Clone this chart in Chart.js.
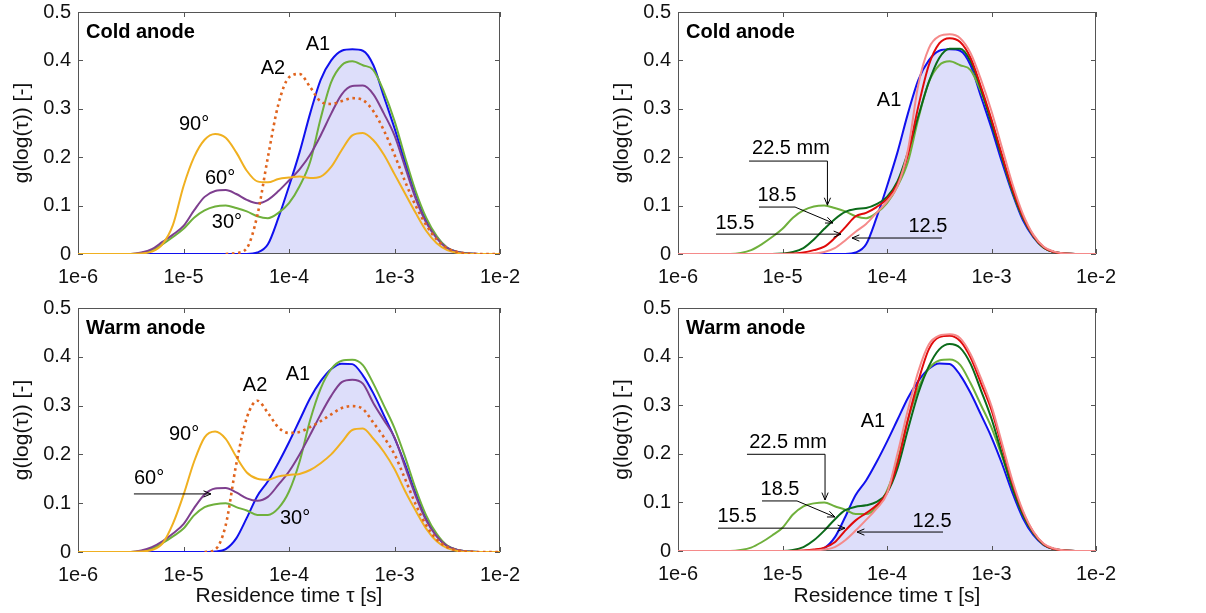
<!DOCTYPE html>
<html>
<head>
<meta charset="utf-8">
<script src="https://cdn.jsdelivr.net/npm/chart.js@4"></script>
<style>
  body { margin: 0; background: #fff; }
  canvas { position: absolute; }
</style>
</head>
<body>
<canvas id="coldAngle" width="600" height="300" style="left:0;top:0"></canvas>
<canvas id="coldRadial" width="606" height="300" style="left:600px;top:0"></canvas>
<canvas id="warmAngle" width="600" height="313" style="left:0;top:300px"></canvas>
<canvas id="warmRadial" width="606" height="313" style="left:600px;top:300px"></canvas>

<script>
// log10 of residence time, one point per 0.1 decade
const logTau = [-6.0, -5.9, -5.8, -5.7, -5.6, -5.5, -5.4, -5.3, -5.2, -5.1,
                -5.0, -4.9, -4.8, -4.7, -4.6, -4.5, -4.4, -4.3, -4.2, -4.1,
                -4.0, -3.9, -3.8, -3.7, -3.6, -3.5, -3.4, -3.3, -3.2, -3.1,
                -3.0, -2.9, -2.8, -2.7, -2.6, -2.5, -2.4, -2.3, -2.2, -2.1,
                -2.0];
const decades = [1e-6, 1e-5, 1e-4, 1e-3, 1e-2];
const yTicks = [0, 0.1, 0.2, 0.3, 0.4, 0.5];

// cold anode
const coldA1 = [0, 0, 0, 0, 0, 0, 0, 0, 0, 0,
  0, 0, 0, 0, 0, 0, 0, 0.003, 0.02, 0.075,
  0.14, 0.21, 0.29, 0.36, 0.40, 0.42, 0.423, 0.42, 0.39, 0.325,
  0.26, 0.19, 0.125, 0.07, 0.035, 0.013, 0.004, 0.001, 0, 0,
  0];
const coldA2 = [null, null, null, null, null, null, null, null, null, null,
  null, null, null, null, 0, 0.002, 0.012, 0.08, 0.2, 0.31,
  0.365, 0.372, 0.345, 0.315, 0.31, 0.316, 0.322, 0.318, 0.295, 0.255,
  0.205, 0.15, 0.1, 0.06, 0.03, 0.012, 0.004, 0.001, 0, 0,
  0];
const cold90 = [0, 0, 0, 0, 0, 0, 0.001, 0.005, 0.02, 0.06,
  0.14, 0.2, 0.236, 0.248, 0.24, 0.21, 0.172, 0.15, 0.148, 0.155,
  0.158, 0.16, 0.157, 0.16, 0.18, 0.215, 0.245, 0.25, 0.235, 0.205,
  0.165, 0.125, 0.085, 0.048, 0.022, 0.008, 0.002, 0, 0, 0,
  0];
const cold60 = [0, 0, 0, 0, 0, 0, 0.003, 0.01, 0.025, 0.04,
  0.058, 0.09, 0.118, 0.13, 0.132, 0.124, 0.112, 0.105, 0.112, 0.13,
  0.152, 0.175, 0.205, 0.245, 0.29, 0.33, 0.347, 0.348, 0.33, 0.29,
  0.245, 0.18, 0.115, 0.065, 0.033, 0.012, 0.004, 0.001, 0, 0,
  0];
// 30 deg is also the 22.5 mm curve
const cold30 = [0, 0, 0, 0, 0, 0, 0.002, 0.008, 0.02, 0.035,
  0.052, 0.075, 0.09, 0.098, 0.1, 0.095, 0.088, 0.078, 0.074, 0.085,
  0.105, 0.14, 0.19, 0.28, 0.355, 0.39, 0.398, 0.39, 0.38, 0.335,
  0.275, 0.2, 0.13, 0.075, 0.037, 0.013, 0.004, 0.001, 0, 0,
  0];
const cold18 = [0, 0, 0, 0, 0, 0, 0, 0, 0, 0,
  0.001, 0.004, 0.012, 0.03, 0.052, 0.072, 0.087, 0.093, 0.095, 0.103,
  0.118, 0.15, 0.21, 0.285, 0.355, 0.405, 0.424, 0.424, 0.398, 0.34,
  0.27, 0.2, 0.13, 0.075, 0.037, 0.013, 0.004, 0.001, 0, 0,
  0];
const cold15 = [0, 0, 0, 0, 0, 0, 0, 0, 0, 0,
  0, 0.001, 0.003, 0.008, 0.015, 0.033, 0.055, 0.078, 0.085, 0.097,
  0.114, 0.145, 0.205, 0.305, 0.39, 0.435, 0.446, 0.438, 0.405, 0.345,
  0.278, 0.205, 0.135, 0.078, 0.038, 0.014, 0.004, 0.001, 0, 0,
  0];
const cold12 = [0, 0, 0, 0, 0, 0, 0, 0, 0, 0,
  0, 0, 0, 0.001, 0.004, 0.012, 0.028, 0.046, 0.062, 0.085,
  0.108, 0.14, 0.215, 0.35, 0.425, 0.45, 0.454, 0.446, 0.415, 0.36,
  0.295, 0.22, 0.145, 0.083, 0.04, 0.015, 0.005, 0.001, 0, 0,
  0];

// warm anode
const warmA1 = [0, 0, 0, 0, 0, 0, 0, 0, 0, 0,
  0, 0, 0, 0.001, 0.006, 0.028, 0.07, 0.115, 0.145, 0.183,
  0.225, 0.27, 0.315, 0.35, 0.375, 0.386, 0.385, 0.362, 0.325, 0.28,
  0.234, 0.18, 0.12, 0.068, 0.033, 0.012, 0.004, 0.001, 0, 0,
  0];
const warmA2 = [null, null, null, null, null, null, null, null, null, null,
  null, null, 0, 0.005, 0.055, 0.18, 0.275, 0.31, 0.285, 0.255,
  0.244, 0.246, 0.256, 0.268, 0.282, 0.295, 0.299, 0.293, 0.265, 0.235,
  0.2, 0.15, 0.098, 0.055, 0.026, 0.01, 0.003, 0.001, 0, 0,
  0];
const warm90 = [0, 0, 0, 0, 0, 0, 0.001, 0.004, 0.017, 0.058,
  0.117, 0.185, 0.235, 0.247, 0.232, 0.195, 0.163, 0.15, 0.148, 0.155,
  0.158, 0.16, 0.168, 0.182, 0.2, 0.225, 0.25, 0.253, 0.232, 0.205,
  0.17, 0.125, 0.085, 0.048, 0.022, 0.008, 0.002, 0, 0, 0,
  0];
const warm60 = [0, 0, 0, 0, 0, 0, 0.003, 0.01, 0.022, 0.038,
  0.057, 0.09, 0.118, 0.13, 0.131, 0.122, 0.11, 0.105, 0.113, 0.138,
  0.165, 0.2, 0.24, 0.282, 0.32, 0.348, 0.353, 0.345, 0.305, 0.27,
  0.235, 0.175, 0.115, 0.065, 0.032, 0.012, 0.004, 0.001, 0, 0,
  0];
const warm30 = [0, 0, 0, 0, 0, 0, 0.002, 0.007, 0.018, 0.032,
  0.048, 0.075, 0.092, 0.098, 0.1, 0.092, 0.085, 0.076, 0.076, 0.09,
  0.124, 0.185, 0.27, 0.335, 0.375, 0.392, 0.394, 0.383, 0.345, 0.3,
  0.254, 0.195, 0.13, 0.075, 0.037, 0.013, 0.004, 0.001, 0, 0,
  0];
const warm18 = [0, 0, 0, 0, 0, 0, 0, 0, 0, 0,
  0, 0.002, 0.008, 0.022, 0.042, 0.065, 0.084, 0.091, 0.094, 0.101,
  0.12, 0.17, 0.25, 0.325, 0.38, 0.415, 0.426, 0.418, 0.385, 0.33,
  0.272, 0.2, 0.13, 0.075, 0.037, 0.013, 0.004, 0.001, 0, 0,
  0];
const warm15 = [0, 0, 0, 0, 0, 0, 0, 0, 0, 0,
  0, 0, 0.001, 0.003, 0.007, 0.018, 0.042, 0.063, 0.078, 0.094,
  0.12, 0.18, 0.27, 0.35, 0.415, 0.44, 0.443, 0.432, 0.398, 0.345,
  0.29, 0.215, 0.14, 0.08, 0.039, 0.014, 0.004, 0.001, 0, 0,
  0];
const warm12 = [0, 0, 0, 0, 0, 0, 0, 0, 0, 0,
  0, 0, 0, 0.001, 0.003, 0.008, 0.022, 0.042, 0.064, 0.087,
  0.118, 0.2, 0.29, 0.37, 0.425, 0.443, 0.446, 0.438, 0.405, 0.355,
  0.298, 0.222, 0.145, 0.083, 0.04, 0.015, 0.005, 0.001, 0, 0,
  0];

const FONT = "'Liberation Sans', Arial, Helvetica, sans-serif";
const tau = logTau.map(e => Math.pow(10, e));

function pts(arr) {
  return tau.map((t, i) => ({x: t, y: arr[i]}));
}

function line(arr, color, extra) {
  return Object.assign({
    data: pts(arr), borderColor: color, borderWidth: 2, pointRadius: 0,
    cubicInterpolationMode: 'monotone', fill: false
  }, extra || {});
}

function a1(arr) {
  return line(arr, '#1010ee', {fill: 'origin', backgroundColor: 'rgb(221,222,250)'});
}

function a2(arr) {
  return line(arr, '#e0641e', {borderWidth: 2.6, borderDash: [2.6, 3.6]});
}

// no extra room for overflowing tick labels, the layout padding sets the box
function noOverflow(s) {
  s.paddingTop = 0; s.paddingBottom = 0; s.paddingLeft = 0; s.paddingRight = 0;
}

// frame, inside ticks and text notes
const notesPlugin = {
  id: 'notes',
  beforeDatasetsDraw(chart) {
    const {ctx, chartArea: a, scales: {x, y}} = chart;
    ctx.save();
    ctx.strokeStyle = '#555';
    ctx.lineWidth = 1;
    ctx.beginPath();
    decades.forEach(v => {
      const px = Math.round(x.getPixelForValue(v)) + 0.5;
      ctx.moveTo(px, a.bottom); ctx.lineTo(px, a.bottom - 5);
      ctx.moveTo(px, a.top); ctx.lineTo(px, a.top + 5);
    });
    yTicks.forEach(v => {
      const py = Math.round(y.getPixelForValue(v)) + 0.5;
      ctx.moveTo(a.left, py); ctx.lineTo(a.left + 5, py);
      ctx.moveTo(a.right, py); ctx.lineTo(a.right - 5, py);
    });
    ctx.stroke();
    ctx.strokeRect(a.left + 0.5, a.top + 0.5, a.width - 1, a.height - 1);
    ctx.restore();
  },
  afterDatasetsDraw(chart, args, opts) {
    const {ctx, chartArea: a, scales: {x, y}} = chart;
    const px = L => x.getPixelForValue(Math.pow(10, L));
    ctx.save();
    ctx.fillStyle = '#000';
    ctx.textBaseline = 'middle';
    ctx.font = 'bold 20px ' + FONT;
    ctx.textAlign = 'left';
    ctx.fillText(opts.title, a.left + 8, a.top + 20);

    ctx.font = '20px ' + FONT;
    ctx.textAlign = 'center';
    (opts.labels || []).forEach(l => {
      ctx.fillText(l.t, px(l.L), y.getPixelForValue(l.v));
    });

    ctx.strokeStyle = '#000';
    ctx.lineWidth = 1;
    (opts.arrows || []).forEach(p => {
      const xy = p.map(q => [px(q[0]), y.getPixelForValue(q[1])]);
      ctx.beginPath();
      ctx.moveTo(xy[0][0], xy[0][1]);
      xy.slice(1).forEach(q => ctx.lineTo(q[0], q[1]));
      ctx.stroke();
      const [x1, y1] = xy[xy.length - 2];
      const [x2, y2] = xy[xy.length - 1];
      const ang = Math.atan2(y2 - y1, x2 - x1);
      ctx.beginPath();
      ctx.moveTo(x2 - 8 * Math.cos(ang - 0.4), y2 - 8 * Math.sin(ang - 0.4));
      ctx.lineTo(x2, y2);
      ctx.lineTo(x2 - 8 * Math.cos(ang + 0.4), y2 - 8 * Math.sin(ang + 0.4));
      ctx.stroke();
    });
    ctx.restore();
  }
};

function makePanel(id, datasets, notes, pad, xHeight, showXTitle) {
  return new Chart(document.getElementById(id), {
    type: 'line',
    data: {datasets: datasets},
    options: {
      responsive: false,
      animation: false,
      layout: {padding: pad},
      plugins: {
        legend: {display: false},
        tooltip: {enabled: false},
        filler: {drawTime: 'beforeDatasetsDraw'},
        notes: notes
      },
      scales: {
        x: {
          type: 'logarithmic', min: 1e-6, max: 1e-2,
          afterBuildTicks: s => { s.ticks = decades.map(v => ({value: v})); },
          afterFit: s => { s.height = xHeight; noOverflow(s); },
          grid: {display: false, drawTicks: false},
          border: {display: false},
          ticks: {
            callback: v => '1e' + Math.round(Math.log10(v)),
            font: {family: FONT, size: 20}, color: '#111',
            padding: 11, maxRotation: 0, autoSkip: false
          },
          title: {
            display: showXTitle, text: 'Residence time τ [s]',
            font: {family: FONT, size: 21}, color: '#111',
            padding: {top: 0, bottom: 4}
          }
        },
        y: {
          min: 0, max: 0.5,
          afterBuildTicks: s => { s.ticks = yTicks.map(v => ({value: v})); },
          afterFit: s => { s.width = 78; noOverflow(s); },
          grid: {display: false, drawTicks: false},
          border: {display: false},
          ticks: {
            callback: v => v === 0 ? '0' : v.toFixed(1),
            font: {family: FONT, size: 20}, color: '#111', padding: 7
          },
          title: {
            display: true, text: 'g(log(τ)) [-]',
            font: {family: FONT, size: 21}, color: '#111',
            padding: {top: 10, bottom: 0}
          }
        }
      }
    },
    plugins: [notesPlugin]
  });
}

makePanel('coldAngle',
  [a2(coldA2), line(cold90, '#f0b020'), line(cold60, '#7e3f8f'), line(cold30, '#6fb03c'), a1(coldA1)],
  {
    title: 'Cold anode',
    labels: [
      {t: 'A1', L: -3.725, v: 0.432}, {t: 'A2', L: -4.152, v: 0.384},
      {t: '90°', L: -4.9, v: 0.267}, {t: '60°', L: -4.654, v: 0.157},
      {t: '30°', L: -4.588, v: 0.066}
    ]
  },
  {top: 12, right: 100, bottom: 0, left: 0}, 46, false);

makePanel('coldRadial',
  [line(cold12, '#f58a8a'), line(cold15, '#e00a0a'), line(cold18, '#0b6b1a'), line(cold30, '#6fb03c'), a1(coldA1)],
  {
    title: 'Cold anode',
    labels: [
      {t: 'A1', L: -3.98, v: 0.318}, {t: '22.5 mm', L: -4.919, v: 0.217},
      {t: '18.5', L: -5.053, v: 0.12}, {t: '15.5', L: -5.455, v: 0.064},
      {t: '12.5', L: -3.608, v: 0.056}
    ],
    arrows: [
      [[-5.32, 0.192], [-4.57, 0.192], [-4.57, 0.101]],
      [[-5.225, 0.097], [-4.88, 0.097], [-4.517, 0.064]],
      [[-5.636, 0.041], [-4.44, 0.041]],
      [[-3.474, 0.033], [-4.335, 0.033]]
    ]
  },
  {top: 12, right: 110, bottom: 0, left: 0}, 46, false);

makePanel('warmAngle',
  [a2(warmA2), line(warm90, '#f0b020'), line(warm60, '#7e3f8f'), line(warm30, '#6fb03c'), a1(warmA1)],
  {
    title: 'Warm anode',
    labels: [
      {t: 'A1', L: -3.915, v: 0.364}, {t: 'A2', L: -4.322, v: 0.341},
      {t: '90°', L: -4.995, v: 0.24}, {t: '60°', L: -5.327, v: 0.15},
      {t: '30°', L: -3.943, v: 0.069}
    ],
    arrows: [
      [[-5.47, 0.119], [-4.74, 0.119]]
    ]
  },
  {top: 8, right: 100, bottom: 0, left: 0}, 61, true);

makePanel('warmRadial',
  [line(warm12, '#f58a8a'), line(warm15, '#e00a0a'), line(warm18, '#0b6b1a'), line(warm30, '#6fb03c'), a1(warmA1)],
  {
    title: 'Warm anode',
    labels: [
      {t: 'A1', L: -4.134, v: 0.266}, {t: '22.5 mm', L: -4.947, v: 0.223},
      {t: '18.5', L: -5.024, v: 0.126}, {t: '15.5', L: -5.435, v: 0.07},
      {t: '12.5', L: -3.569, v: 0.061}
    ],
    arrows: [
      [[-5.34, 0.199], [-4.593, 0.199], [-4.593, 0.105]],
      [[-5.196, 0.103], [-4.861, 0.103], [-4.498, 0.07]],
      [[-5.617, 0.047], [-4.402, 0.047]],
      [[-3.464, 0.039], [-4.287, 0.039]]
    ]
  },
  {top: 8, right: 110, bottom: 0, left: 0}, 62, true);
</script>
</body>
</html>
